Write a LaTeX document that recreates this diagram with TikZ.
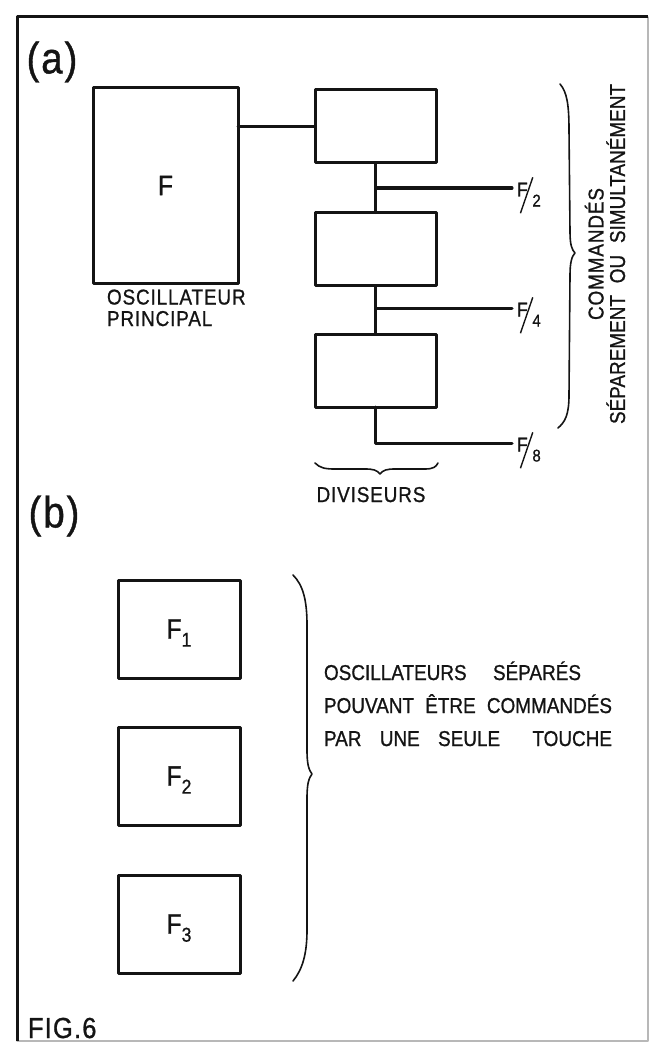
\documentclass[tikz,border=0pt]{standalone}
\usepackage{fontspec}
\newfontfamily\lettering{Liberation Sans}[FakeStretch=0.88, FakeBold=0.9, LetterSpace=4]
\newfontfamily\tightlettering{Liberation Sans}[FakeStretch=0.88, FakeBold=0.9]
\usetikzlibrary{calc}
\definecolor{SchemeInk}{gray}{0.08}
\definecolor{SchemeEdge}{gray}{0.72}
\newcommand\textsize[1]{\fontsize{#1}{#1}\selectfont}
% F over a long slash over the divisor
\newcommand\slashfrac[1]{F\kern-8pt\raisebox{-17pt}{\rotatebox{71}{\rule{38pt}{1.4pt}}}\kern-1pt\raisebox{-10pt}{\textsize{17}#1}}
\newcommand\subfreq[1]{F\raisebox{-8pt}[0pt][0pt]{\textsize{20}#1}}
\tikzset{
    scheme/diagram/.style={
        x=1pt, y=-1pt,
        draw=SchemeInk,
        text=SchemeInk,
        line cap=round,
        line join=round,
        font=\lettering\textsize{21.5},
        every node/.style={inner sep=0pt, outer sep=0pt}
    },
    scheme/frame/.style={draw=SchemeInk, line width=3pt, line cap=butt},
    scheme/edge/.style={draw=SchemeEdge, line width=1.2pt},
    scheme/block/.style={draw=SchemeInk, line width=3pt, font=\lettering\textsize{28}},
    scheme/divider/.style={scheme/block, minimum width=121pt, minimum height=73pt},
    scheme/generator/.style={scheme/block, minimum width=122pt, minimum height=98pt},
    scheme/wire/.style={draw=SchemeInk, line width=3pt},
    scheme/brace/.style={draw=SchemeInk, line width=1.6pt},
    scheme/tag/.style={font=\lettering\textsize{44}},
    scheme/ratio/.style={anchor=base west, font=\lettering\textsize{20}},
    scheme/caption/.style={align=left, anchor=base west}
}

\begin{document}
\begin{tikzpicture}[scheme/diagram]
    \useasboundingbox (0,0) rectangle (651,1043);
    % frame
    \draw[scheme/edge] (648,17) -- (648,1041) -- (17,1041);
    \draw[scheme/frame] (17,1041) -- (17,17) -- (648,17);
    % (a) main oscillator and dividers
    \node[scheme/tag] (PartA) at (52,62) {(a)};
    \node[scheme/block, minimum width=145pt, minimum height=195pt] (Osc) at (165.5,185.5) {F};
    \node[scheme/caption] (OscName) at (107,326) {OSCILLATEUR\\PRINCIPAL};
    \node[scheme/divider] (Div1) at (375.5,126.5) {};
    \node[scheme/divider] (Div2) at (375.5,249) {};
    \node[scheme/divider] (Div3) at (375.5,370.5) {};
    \coordinate (Tap1) at (512,188);
    \coordinate (Tap2) at (512,308);
    \coordinate (Tap3) at (512,443);
    \draw[scheme/wire] (Osc.east |- Div1) -- (Div1.west);
    \draw[scheme/wire] (Div1.south) -- (Div2.north);
    \draw[scheme/wire] (Div2.south) -- (Div3.north);
    \draw[scheme/wire] (Div3.south) |- (Tap3);
    \draw[scheme/wire] (Div1.south |- Tap1) -- (Tap1);
    \draw[scheme/wire] (Div2.south |- Tap2) -- (Tap2);
    \node[scheme/ratio] (Half) at ($(Tap1)+(5,8.5)$) {\slashfrac{2}};
    \node[scheme/ratio] (Quarter) at ($(Tap2)+(5,8.5)$) {\slashfrac{4}};
    \node[scheme/ratio] (Eighth) at ($(Tap3)+(5,8.5)$) {\slashfrac{8}};
    \draw[scheme/brace] (315,463) .. controls (320,468) and (325,469) .. (335,469)
        -- (365,469) .. controls (373,469) and (377,470) .. (380,474)
        .. controls (383,470) and (387,469) .. (395,469)
        -- (425,469) .. controls (433,469) and (436,467) .. (438,463);
    \node[anchor=base] (DivName) at (371,502) {DIVISEURS};
    \draw[scheme/brace] (560,84) .. controls (567,92) and (569,105) .. (569,130)
        -- (570,232) .. controls (570,245) and (572,250) .. (575,253)
        .. controls (572,256) and (570,262) .. (570,275)
        -- (569,395) .. controls (569,415) and (565,422) .. (558,428);
    \node[rotate=90, align=center] (Cmd) at (605,254)
        {COMMANDÉS\\\tightlettering\makebox[340pt][s]{SÉPAREMENT OU SIMULTANÉMENT}};
    % (b) separate oscillators
    \node[scheme/tag] (PartB) at (54,516) {(b)};
    \node[scheme/generator] (Gen1) at (179,629) {\subfreq{1}};
    \node[scheme/generator] (Gen2) at (179,776) {\subfreq{2}};
    \node[scheme/generator] (Gen3) at (179,924) {\subfreq{3}};
    \draw[scheme/brace] (293,575) .. controls (303,585) and (307,600) .. (307,625)
        -- (307,750) .. controls (307,765) and (309,770) .. (312,774)
        .. controls (309,778) and (307,783) .. (307,798)
        -- (307,930) .. controls (307,955) and (302,970) .. (293,981);
    \node[scheme/caption, font=\tightlettering\fontsize{21.5}{33}\selectfont] (GenNote) at (324,746)
        {\makebox[257pt][s]{OSCILLATEURS SÉPARÉS}\\
         \makebox[288pt][s]{POUVANT ÊTRE COMMANDÉS}\\
         \makebox[288pt][s]{PAR UNE SEULE\hspace{14pt} TOUCHE}};
    \node[anchor=base west, font=\lettering\textsize{29}] (FigNo) at (28,1038) {FIG.6};
\end{tikzpicture}
\end{document}
